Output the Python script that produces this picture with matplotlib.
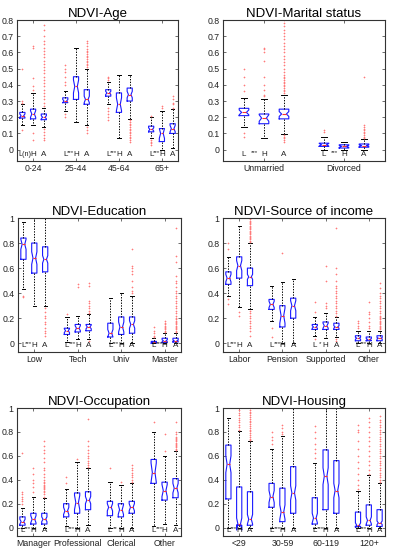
import matplotlib
matplotlib.use("Agg")
import matplotlib.pyplot as plt
import matplotlib.transforms as mtransforms

plt.rcParams['font.family'] = ['Liberation Sans', 'DejaVu Sans']

# ---------------- DATA ----------------
# Each panel: 3 boxes per group (L, H, A)
age_groups = ["0-24", "25-44", "45-64", "65+"]
age_med = [0.21, 0.22, 0.20, 0.30, 0.39, 0.31, 0.35, 0.28, 0.34, 0.125, 0.10, 0.13]
age_q1 = [0.195, 0.19, 0.185, 0.29, 0.31, 0.28, 0.33, 0.23, 0.30, 0.11, 0.05, 0.10]
age_q3 = [0.23, 0.25, 0.22, 0.32, 0.45, 0.37, 0.37, 0.35, 0.38, 0.145, 0.13, 0.16]
age_lo = [0.15, 0.15, 0.14, 0.24, 0.17, 0.15, 0.28, 0.07, 0.19, 0.07, 0.0, 0.01]
age_hi = [0.28, 0.35, 0.26, 0.36, 0.63, 0.50, 0.42, 0.46, 0.46, 0.20, 0.24, 0.25]
age_notch = [0.01, 0.02, 0.01, 0.01, 0.04, 0.02, 0.01, 0.04, 0.02, 0.01, 0.03, 0.02]
age_out = [
    [0.50, 0.30, 0.29, 0.12],
    [0.64, 0.63, 0.44, 0.39, 0.37, 0.10, 0.06],
    [0.27, 0.29, 0.31, 0.33, 0.35, 0.37, 0.39, 0.41, 0.43, 0.45, 0.47, 0.49, 0.51, 0.53,
     0.55, 0.57, 0.59, 0.61, 0.63, 0.65, 0.67, 0.70, 0.74, 0.77, 0.13, 0.11, 0.09, 0.07, 0.06],
    [0.52, 0.50, 0.48, 0.45, 0.42, 0.40, 0.22, 0.20],
    [],
    [0.51, 0.52, 0.53, 0.54, 0.55, 0.56, 0.57, 0.58, 0.59, 0.60, 0.61, 0.62, 0.64, 0.66,
     0.67, 0.14, 0.12, 0.10],
    [0.45, 0.44, 0.43, 0.26, 0.24, 0.22, 0.20, 0.18],
    [],
    [0.18, 0.17, 0.16, 0.15, 0.14, 0.13, 0.12, 0.11, 0.10, 0.09, 0.08, 0.07, 0.06, 0.05],
    [0.21, 0.06, 0.05, 0.04, 0.03],
    [0.26, 0.27],
    [0.26, 0.28, 0.29, 0.31, 0.33],
]
age_sig = ["(n)", "***", "***", "***"]

mar_groups = ["Unmarried", "Divorced"]
mar_med = [0.23, 0.195, 0.22, 0.03, 0.02, 0.025]
mar_q1 = [0.21, 0.16, 0.19, 0.02, 0.01, 0.015]
mar_q3 = [0.255, 0.22, 0.25, 0.04, 0.03, 0.035]
mar_lo = [0.14, 0.07, 0.095, 0.0, 0.0, 0.0]
mar_hi = [0.32, 0.315, 0.34, 0.075, 0.05, 0.065]
mar_notch = [0.015, 0.02, 0.015, 0.008, 0.006, 0.005]
mar_out = [
    [0.50, 0.45, 0.40, 0.36, 0.10, 0.08],
    [0.63, 0.62, 0.60, 0.55, 0.45, 0.40, 0.37, 0.34, 0.33],
    [0.35, 0.36, 0.37, 0.38, 0.39, 0.40, 0.41, 0.42, 0.43, 0.44, 0.45, 0.46, 0.48, 0.50,
     0.52, 0.54, 0.56, 0.58, 0.60, 0.62, 0.64, 0.66, 0.68, 0.70, 0.72, 0.74, 0.76, 0.78,
     0.80, 0.09, 0.08, 0.07, 0.06, 0.05],
    [0.12, 0.11],
    [],
    [0.07, 0.08, 0.09, 0.10, 0.11, 0.12, 0.13, 0.14, 0.15, 0.45],
]
mar_sig = ["***", "***"]

edu_groups = ["Low", "Tech", "Univ", "Master"]
edu_med = [0.79, 0.68, 0.67, 0.10, 0.12, 0.13, 0.08, 0.13, 0.15, 0.01, 0.02, 0.02]
edu_q1 = [0.67, 0.56, 0.57, 0.07, 0.09, 0.10, 0.05, 0.07, 0.08, 0.0, 0.005, 0.01]
edu_q3 = [0.84, 0.80, 0.77, 0.12, 0.15, 0.15, 0.16, 0.21, 0.21, 0.015, 0.04, 0.04]
edu_lo = [0.43, 0.30, 0.30, 0.01, 0.03, 0.03, 0.0, 0.0, 0.0, 0.0, 0.0, 0.0]
edu_hi = [0.97, 1.0, 1.0, 0.21, 0.22, 0.23, 0.36, 0.40, 0.38, 0.04, 0.08, 0.08]
edu_notch = [0.04, 0.05, 0.03, 0.015, 0.02, 0.015, 0.03, 0.04, 0.03, 0.003, 0.008, 0.005]
edu_out = [
    [0.38, 0.37],
    [],
    [0.28, 0.25, 0.22, 0.20, 0.17, 0.15, 0.12, 0.10, 0.08, 0.06],
    [0.23],
    [0.47, 0.45],
    [0.24, 0.26, 0.28, 0.30, 0.32, 0.34, 0.46, 0.48, 0.02],
    [],
    [],
    [0.40, 0.42, 0.45, 0.50, 0.55, 0.58, 0.60, 0.62, 0.75],
    [0.05, 0.06, 0.08, 0.10, 0.13],
    [0.09, 0.10, 0.11, 0.12, 0.13, 0.14, 0.15, 0.16, 0.18],
    [0.09, 0.10, 0.11, 0.12, 0.13, 0.14, 0.15, 0.16, 0.17, 0.18, 0.19, 0.20, 0.22, 0.24,
     0.26, 0.28, 0.30, 0.32, 0.34, 0.36, 0.38, 0.40, 0.42, 0.45, 0.48, 0.50, 0.54, 0.65,
     0.70, 0.92],
]
edu_sig = ["***", "***", "***", "***"]

inc_groups = ["Labor", "Pension", "Supported", "Other"]
inc_med = [0.52, 0.62, 0.53, 0.31, 0.22, 0.30, 0.13, 0.14, 0.13, 0.04, 0.03, 0.04]
inc_q1 = [0.47, 0.52, 0.46, 0.27, 0.13, 0.20, 0.11, 0.11, 0.11, 0.02, 0.02, 0.02]
inc_q3 = [0.57, 0.69, 0.60, 0.35, 0.30, 0.36, 0.15, 0.17, 0.16, 0.06, 0.05, 0.06]
inc_lo = [0.38, 0.29, 0.27, 0.18, 0.0, 0.0, 0.06, 0.04, 0.05, 0.0, 0.0, 0.0]
inc_hi = [0.69, 0.94, 0.80, 0.46, 0.49, 0.51, 0.21, 0.24, 0.21, 0.10, 0.10, 0.10]
inc_notch = [0.03, 0.04, 0.02, 0.025, 0.06, 0.04, 0.01, 0.02, 0.01, 0.008, 0.008, 0.006]
inc_out = [
    [0.80, 0.75, 0.35, 0.31],
    [0.25, 0.22],
    [0.81, 0.82, 0.83, 0.84, 0.85, 0.86, 0.87, 0.88, 0.89, 0.90, 0.91, 0.92, 0.93, 0.94,
     0.95, 0.96, 0.97, 0.98, 0.99, 1.0, 0.26, 0.24, 0.22, 0.20, 0.18, 0.16, 0.14, 0.12,
     0.10, 0.06],
    [0.12, 0.05],
    [0.72],
    [],
    [0.33, 0.25, 0.03],
    [0.62, 0.50, 0.32, 0.30, 0.28],
    [0.22, 0.24, 0.26, 0.28, 0.30, 0.32, 0.34, 0.36, 0.38, 0.40, 0.42, 0.44, 0.46, 0.50,
     0.55, 0.60, 0.92, 0.03, 0.02],
    [0.12, 0.14, 0.16, 0.18],
    [0.12, 0.14, 0.17, 0.20, 0.23, 0.25, 0.33],
    [0.11, 0.12, 0.13, 0.14, 0.15, 0.16, 0.17, 0.18, 0.19, 0.20, 0.21, 0.22, 0.24, 0.26,
     0.28, 0.30, 0.32, 0.34, 0.36, 0.38, 0.40, 0.44, 0.48],
]
inc_sig = ["***", "***", "*", "***"]

occ_groups = ["Manager", "Professional", "Clerical", "Other"]
occ_med = [0.05, 0.07, 0.07, 0.14, 0.21, 0.23, 0.17, 0.15, 0.17, 0.46, 0.31, 0.33]
occ_q1 = [0.02, 0.03, 0.03, 0.09, 0.12, 0.15, 0.10, 0.09, 0.12, 0.37, 0.23, 0.25]
occ_q3 = [0.09, 0.12, 0.12, 0.20, 0.29, 0.30, 0.22, 0.20, 0.22, 0.57, 0.38, 0.41]
occ_lo = [0.0, 0.0, 0.0, 0.01, 0.0, 0.02, 0.0, 0.0, 0.0, 0.01, 0.03, 0.02]
occ_hi = [0.16, 0.26, 0.25, 0.32, 0.55, 0.50, 0.38, 0.36, 0.37, 0.80, 0.60, 0.64]
occ_notch = [0.02, 0.03, 0.02, 0.03, 0.06, 0.03, 0.03, 0.04, 0.03, 0.08, 0.05, 0.04]
occ_out = [
    [0.20, 0.22, 0.24, 0.26, 0.28, 0.30, 0.62],
    [0.30, 0.34, 0.37, 0.40, 0.45, 0.50],
    [0.26, 0.28, 0.30, 0.31, 0.32, 0.33, 0.34, 0.35, 0.36, 0.37, 0.38, 0.40, 0.42, 0.45,
     0.48, 0.50, 0.55, 0.58, 0.62, 0.65, 0.68, 0.72],
    [0.37, 0.42],
    [0.57],
    [0.51, 0.52, 0.54, 0.56, 0.58, 0.60, 0.62, 0.65, 0.68, 0.72, 0.91],
    [0.50],
    [0.38],
    [0.38, 0.40, 0.42, 0.44, 0.46, 0.48, 0.50, 0.52],
    [0.88],
    [0.64, 0.78],
    [0.65, 0.66, 0.67, 0.68, 0.69, 0.70, 0.71, 0.72, 0.73, 0.74, 0.75, 0.76, 0.78, 0.80,
     0.88],
]
occ_sig = ["***", "***", "**", "***"]

hou_groups = ["<29", "30-59", "60-119", "120+"]
hou_med = [0.53, 0.03, 0.07, 0.26, 0.13, 0.29, 0.08, 0.43, 0.31, 0.02, 0.06, 0.04]
hou_q1 = [0.24, 0.02, 0.02, 0.17, 0.05, 0.12, 0.03, 0.15, 0.12, 0.01, 0.02, 0.01]
hou_q3 = [0.69, 0.34, 0.30, 0.37, 0.33, 0.51, 0.25, 0.65, 0.56, 0.13, 0.19, 0.15]
hou_lo = [0.0, 0.0, 0.0, 0.0, 0.0, 0.0, 0.0, 0.0, 0.0, 0.0, 0.0, 0.0]
hou_hi = [0.92, 0.81, 0.72, 0.66, 0.77, 1.0, 0.54, 1.0, 1.0, 0.31, 0.44, 0.37]
hou_notch = [0.07, 0.05, 0.04, 0.05, 0.06, 0.06, 0.04, 0.07, 0.06, 0.02, 0.03, 0.015]
hou_out = [
    [],
    [0.82, 0.84, 0.86, 0.88, 0.90, 0.92, 0.94, 0.96, 0.98, 1.0],
    [0.73, 0.745, 0.76, 0.775, 0.79, 0.805, 0.82, 0.835, 0.85, 0.865, 0.88, 0.895, 0.91,
     0.925, 0.94, 0.955, 0.97, 0.985, 1.0],
    [0.70, 0.73, 0.76, 0.80],
    [0.78, 0.80, 0.83, 0.86],
    [],
    [0.58, 0.62, 0.66, 0.70, 0.75, 0.80, 0.85],
    [],
    [],
    [0.32, 0.36, 0.40, 0.45, 0.50, 0.55, 0.60, 0.66, 0.72, 0.80, 0.82, 0.86],
    [0.45, 0.48, 0.52, 0.56, 0.60, 0.64, 0.68, 0.72, 0.76, 0.80, 0.84, 0.88, 0.92],
    [0.38, 0.40, 0.42, 0.44, 0.46, 0.48, 0.50, 0.52, 0.54, 0.56, 0.58, 0.60, 0.62, 0.64,
     0.66, 0.68, 0.70, 0.72, 0.74, 0.76, 0.78, 0.80, 0.82, 0.84, 0.86, 0.88, 0.90, 0.93],
]
hou_sig = ["***", "***", "***", "***"]

box_labels = ["L", "H", "A"]
yt_small = [0, 0.1, 0.2, 0.3, 0.4, 0.5, 0.6, 0.7, 0.8]
yt_small_lab = ["0", "0.1", "0.2", "0.3", "0.4", "0.5", "0.6", "0.7", "0.8"]
yt_big = [0, 0.2, 0.4, 0.6, 0.8, 1.0]
yt_big_lab = ["0", "0.2", "0.4", "0.6", "0.8", "1"]

# ---------------- DRAWING ----------------
W, H = 396, 550
fig = plt.figure(figsize=(W / 100, H / 100), dpi=100)


def rect(l, r, t, b):
    return [l / W, 1 - b / H, (r - l) / W, (b - t) / H]


AX_COL = '#333333'
TXT_COL = '#222222'


def panel(r, title, groups, med, q1, q3, lo, hi, notch, out, sig, ylim, yt, ytl, xlim):
    ax = fig.add_axes(r)
    pos = []
    for g in range(len(groups)):
        for k in range(3):
            pos.append(4 * g + 1 + k)
    stats = []
    for i in range(len(med)):
        stats.append(dict(med=med[i], q1=q1[i], q3=q3[i], whislo=lo[i], whishi=hi[i],
                          fliers=out[i], cilo=med[i] - notch[i], cihi=med[i] + notch[i]))
    ax.bxp(stats, positions=pos, widths=0.48, shownotches=True, capwidths=0.3,
           boxprops=dict(color='#1a1aff', lw=0.8),
           medianprops=dict(color='#ff3030', lw=0.8),
           whiskerprops=dict(color='black', lw=0.7, ls=(0, (1.4, 1.4))),
           capprops=dict(color='black', lw=0.7),
           flierprops=dict(marker='+', markeredgecolor='#ff7a7a', markersize=2.0,
                           markeredgewidth=0.45, linestyle='none'))
    ax.set_xlim(*xlim)
    ax.set_ylim(*ylim)
    ax.set_yticks(yt)
    ax.set_yticklabels(ytl)
    ax.set_xticks([4 * g + 2 for g in range(len(groups))])
    ax.set_xticklabels(groups)
    ax.tick_params(direction='in', top=True, right=True, length=2.5, width=0.5,
                   labelsize=6.3, pad=2.5, colors=AX_COL, labelcolor=TXT_COL)
    for s in ax.spines.values():
        s.set_color(AX_COL)
        s.set_linewidth(0.8)
    ax.set_title(title, fontsize=9.5, pad=2.5)
    tr = mtransforms.blended_transform_factory(ax.transData, ax.transAxes)
    for g in range(len(groups)):
        base = 4 * g + 1
        if sig[g].startswith('('):
            ax.text(base + 0.2, 0.045, "L" + sig[g], transform=tr, ha='center',
                    va='center', fontsize=5.2, color=TXT_COL)
        else:
            ax.text(base, 0.045, box_labels[0], transform=tr, ha='center',
                    va='center', fontsize=5.8, color=TXT_COL)
            ax.text(base + 0.5, 0.06, sig[g], transform=tr, ha='center', va='center',
                    fontsize=4.5, color=TXT_COL)
        for k in (1, 2):
            ax.text(base + k, 0.045, box_labels[k], transform=tr, ha='center',
                    va='center', fontsize=5.8, color=TXT_COL)
    return ax


panel(rect(17, 178, 20, 161), "NDVI-Age", age_groups, age_med, age_q1, age_q3, age_lo,
      age_hi, age_notch, age_out, age_sig, (-0.07, 0.8), yt_small, yt_small_lab, (0.5, 15.5))
panel(rect(223, 385, 20, 161), "NDVI-Marital status", mar_groups, mar_med, mar_q1, mar_q3,
      mar_lo, mar_hi, mar_notch, mar_out, mar_sig, (-0.07, 0.8), yt_small, yt_small_lab,
      (-0.05, 8.05))
panel(rect(18, 181, 218, 352), "NDVI-Education", edu_groups, edu_med, edu_q1, edu_q3, edu_lo,
      edu_hi, edu_notch, edu_out, edu_sig, (-0.07, 1.0), yt_big, yt_big_lab, (0.5, 15.5))
panel(rect(223, 385, 218, 352), "NDVI-Source of income", inc_groups, inc_med, inc_q1, inc_q3,
      inc_lo, inc_hi, inc_notch, inc_out, inc_sig, (-0.07, 1.0), yt_big, yt_big_lab,
      (0.5, 15.5))
panel(rect(17, 181, 408, 536), "NDVI-Occupation", occ_groups, occ_med, occ_q1, occ_q3,
      occ_lo, occ_hi, occ_notch, occ_out, occ_sig, (-0.07, 1.0), yt_big, yt_big_lab,
      (0.5, 15.5))
panel(rect(223, 385, 408, 536), "NDVI-Housing", hou_groups, hou_med, hou_q1, hou_q3, hou_lo,
      hou_hi, hou_notch, hou_out, hou_sig, (-0.07, 1.0), yt_big, yt_big_lab, (0.5, 15.5))

fig.savefig("out.png", dpi=100)
